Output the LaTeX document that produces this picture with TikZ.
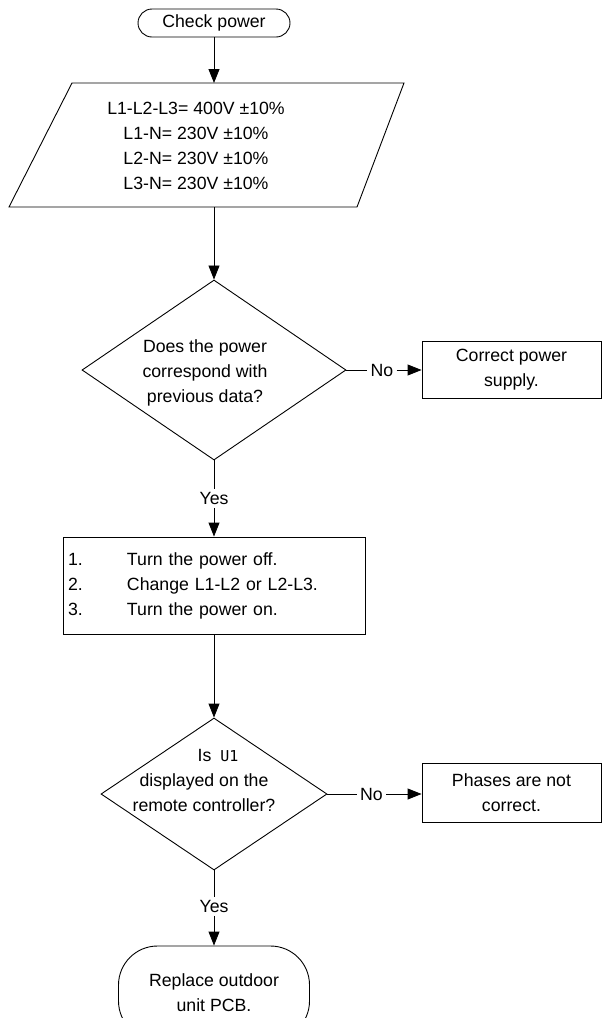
\documentclass[tikz,border=0pt]{standalone}
\usepackage{fontspec}
\setmainfont{Liberation Sans}
\newfontfamily\segfont{DejaVu Sans Mono}
\usetikzlibrary{shapes.geometric, arrows.meta, positioning}

\begin{document}
\begin{tikzpicture}[x=1pt, y=-1pt,
            every node/.style={font=\fontsize{17.7pt}{25pt}\selectfont},
            terminal/.style={rectangle, draw, line width=0.9pt, align=center, inner sep=0pt},
            process/.style={rectangle, draw, line width=0.9pt, inner sep=5pt},
            decision/.style={diamond, draw, line width=0.9pt, inner sep=0pt},
            words/.style={align=center, inner sep=0pt},
            answer/.style={inner sep=3pt},
            lines/.style={line width=0.9pt},
            paths/.style={line width=0.9pt, -{Triangle[length=14pt, width=11pt]}}
        ]
            \useasboundingbox (0,0) rectangle (602,1018);

            % Nodes
            \node[terminal, rounded corners=14pt, minimum width=152pt, minimum height=28pt] (start) at (214,23) {Check power};

            \coordinate (volts-top) at (214,83);
            \coordinate (volts-bottom) at (214,207);
            \draw[lines] (72,83) -- (404,83) -- (357,207) -- (9,207) -- cycle;
            \node[words] (volts) at (196,146) {L1-L2-L3= 400V ±10\%\\ L1-N= 230V ±10\%\\ L2-N= 230V ±10\%\\ L3-N= 230V ±10\%};

            \node[decision, minimum width=264pt, minimum height=180pt] (q1) at (214,370) {};
            \node[words] (q1-text) at (205,373) {Does the power\\ correspond with\\ previous data?};
            \node[answer] (no1) at (382,370) {No};
            \node[process, align=center, minimum width=179pt, minimum height=57pt] (fix1) at (511.5,369.5) {Correct power\\ supply.};
            \node[answer] (yes1) at (214,498.6) {Yes};

            \node[process, text width=292pt, align=left, minimum height=97pt] (steps) at (214,585.5)
                {\makebox[59pt][l]{1.}Turn the power off.\\
                 \makebox[59pt][l]{2.}Change L1-L2 or L2-L3.\\
                 \makebox[59pt][l]{3.}Turn the power on.};

            \node[decision, minimum width=226pt, minimum height=152pt] (q2) at (214,794) {};
            \node[words] (q2-text) at (204,780.5) {\hspace*{28pt}Is\hspace{9pt}{\segfont\fontsize{15pt}{25pt}\selectfont U1}\\ displayed on the\\ remote controller?};
            \node[answer] (no2) at (371.5,794) {No};
            \node[process, align=center, minimum width=179pt, minimum height=59pt] (fix2) at (511.5,792.5) {Phases are not\\ correct.};
            \node[answer] (yes2) at (214,906.6) {Yes};

            \node[terminal, rounded corners=39pt, minimum width=191pt, minimum height=94pt] (stop) at (214,993) {Replace outdoor\\ unit PCB.};

            % Paths: main line
            \draw[paths] (start) -- (volts-top);
            \draw[paths] (volts-bottom) -- (q1);
            \draw[lines] (q1.south) -- (yes1.north);
            \draw[paths] (yes1) -- (steps);
            \draw[paths] (steps) -- (q2);
            \draw[lines] (q2.south) -- (yes2.north);
            \draw[paths] (yes2) -- (stop);

            % Paths: No branches
            \draw[lines] (q1.east) -- (no1.west);
            \draw[paths] (no1.east) -- (no1.east -| fix1.west);
            \draw[lines] (q2.east) -- (no2.west);
            \draw[paths] (no2.east) -- (no2.east -| fix2.west);
        \end{tikzpicture}
\end{document}
